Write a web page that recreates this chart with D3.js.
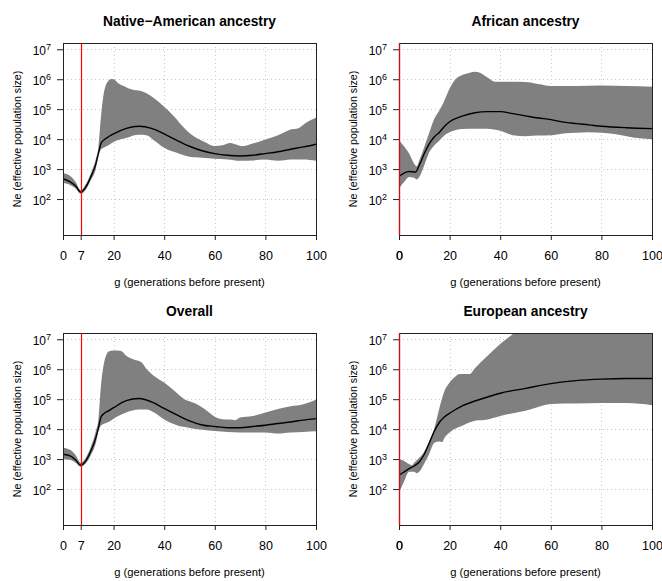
<!DOCTYPE html>
<html lang="en">
<head>
<meta charset="utf-8">
<script src="https://d3js.org/d3.v7.min.js"></script>
<style>
  body { margin: 0; background: #fff; }
  text { font-family: "Liberation Sans", Arial, sans-serif; fill: #000; }
</style>
</head>
<body>
<svg width="662" height="581"></svg>
<script>
// ticks
var xTicks = [0, 20, 40, 60, 80, 100];
var yExponents = [2, 3, 4, 5, 6, 7];

// [generation, Ne]
var naMid = [[0,480],[3,370],[5,275],[7,170],[9,250],[11,550],[13,1500],[14,3300],[15,7100],[16,9100],[18,12000],[20,15000],[25,23000],[30,27000],[35,23000],[40,15000],[45,9100],[50,5800],[55,4100],[60,3300],[65,2900],[70,2750],[75,2900],[80,3300],[85,3800],[90,4600],[95,5500],[100,6800]];
var naHi = [[0,740],[3,575],[5,370],[7,195],[9,310],[11,710],[13,2200],[14,5500],[15,56000],[16,295000],[17,650000],[18,890000],[19,1020000],[20,1000000],[22,720000],[24,590000],[26,490000],[28,440000],[30,420000],[33,340000],[36,230000],[40,120000],[44,56000],[48,23000],[52,12000],[56,8100],[60,5900],[63,6200],[66,7400],[68,6800],[71,5800],[75,7100],[80,9800],[85,13500],[90,21000],[93,23000],[96,35000],[100,52000]];
var naLo = [[0,350],[3,290],[5,225],[7,150],[9,205],[11,430],[13,1050],[14,2900],[15,4500],[16,5200],[18,6300],[20,8100],[25,11000],[30,14000],[33,13500],[36,9100],[40,5200],[45,3500],[50,2600],[55,2400],[60,2200],[65,2100],[70,1900],[75,1950],[80,2100],[85,1900],[90,2100],[95,2100],[100,1900]];

var afMid = [[0,575],[2,740],[4,830],[6.5,800],[8,1350],[10,3300],[12,7100],[14,12000],[16,17000],[18,27000],[20,38000],[25,59000],[30,76000],[35,83000],[40,83000],[45,71000],[50,60000],[55,51000],[60,45000],[65,37000],[70,33000],[75,30000],[80,27000],[90,24000],[100,22500]];
var afHi = [[0,9100],[2,5800],[4,3300],[6,1500],[7,1230],[8,1950],[10,5500],[12,17000],[14,49000],[16,93000],[18,200000],[20,490000],[22,930000],[25,1380000],[28,1660000],[30,1780000],[32,1660000],[35,1150000],[38,830000],[40,830000],[45,830000],[50,810000],[55,690000],[60,590000],[70,600000],[80,620000],[90,590000],[100,560000]];
var afLo = [[0,225],[2,370],[4,550],[6,510],[7,450],[8,550],[10,1350],[12,3700],[14,6300],[16,9100],[18,13500],[20,17000],[25,22000],[30,22400],[35,22400],[40,19000],[45,13500],[50,12600],[55,13200],[60,13500],[65,15500],[70,16200],[75,17000],[80,16200],[85,14800],[90,12600],[95,10700],[100,10000]];

var ovMid = [[0,1450],[3,1260],[5,930],[7,620],[9,870],[11,1860],[13,5200],[14,11000],[15,25000],[16,32000],[18,41000],[20,52000],[25,89000],[30,105000],[35,81000],[40,49000],[45,30000],[50,19000],[55,13800],[60,12300],[65,11200],[70,11200],[75,12300],[80,13500],[85,15500],[90,17400],[95,20000],[100,22400]];
var ovHi = [[0,2400],[3,2000],[5,1350],[7,760],[9,1120],[11,2600],[13,8700],[14,21000],[15,280000],[16,1300000],[17,2800000],[18,3900000],[20,4200000],[23,4100000],[25,2800000],[28,2100000],[31,1700000],[33,1020000],[36,600000],[40,360000],[44,190000],[48,100000],[52,74000],[56,47000],[60,26000],[64,21000],[66,21000],[68,20000],[70,24500],[75,27500],[80,36000],[85,47000],[90,58000],[95,68000],[100,95000]];
var ovLo = [[0,980],[3,930],[5,760],[7,560],[9,720],[11,1350],[13,3500],[14,8700],[15,12900],[16,14800],[18,17400],[20,22400],[25,36000],[30,45000],[33,45000],[36,36000],[40,21000],[45,13500],[50,11000],[55,9500],[60,8700],[65,8100],[70,7800],[80,7800],[85,7200],[90,7800],[95,8100],[100,8500]];

var euMid = [[0,290],[2,370],[4,480],[6,590],[8,800],[10,1450],[12,3500],[14,8700],[16,17000],[18,26000],[20,34000],[25,60000],[30,87000],[35,118000],[40,158000],[50,229000],[60,331000],[70,417000],[80,468000],[90,490000],[100,490000]];
var euHi = [[0,980],[2,870],[4,680],[5,620],[6,760],[8,1100],[10,1800],[12,4100],[14,11000],[16,52000],[18,190000],[20,360000],[22,540000],[24,690000],[26,690000],[28,690000],[30,1070000],[35,2800000],[40,6900000],[45,15000000],[50,32000000],[60,100000000],[100,100000000]];
var euLo = [[0,76],[2,180],[4,380],[6,380],[7,340],[8,380],[10,720],[12,1550],[14,3500],[16,3900],[17,3700],[18,5200],[20,7800],[25,12900],[30,19000],[35,21000],[40,27500],[50,41000],[60,69000],[65,72000],[70,72000],[80,74000],[90,74000],[100,63000]];

var panels = [
  { title: "Native\u2212American ancestry", gen: 7, mid: naMid, hi: naHi, lo: naLo, left: 63, top: 43 },
  { title: "African ancestry", gen: 0, mid: afMid, hi: afHi, lo: afLo, left: 399, top: 43 },
  { title: "Overall", gen: 7, mid: ovMid, hi: ovHi, lo: ovLo, left: 63, top: 333 },
  { title: "European ancestry", gen: 0, mid: euMid, hi: euHi, lo: euLo, left: 399, top: 333 }
];

var W = 253, H = 192;
var svg = d3.select("svg");

var x = d3.scaleLinear().domain([0, 100]).range([0, W]);
var y = d3.scaleLog().domain([Math.pow(10, 0.8), Math.pow(10, 7.21)]).range([H, 0]);

var line = d3.line()
  .x(function (d) { return x(d[0]); })
  .y(function (d) { return y(d[1]); })
  .curve(d3.curveMonotoneX);

panels.forEach(function (p, i) {
  var g = svg.append("g").attr("transform", "translate(" + p.left + "," + p.top + ")");

  g.append("clipPath").attr("id", "clip" + i)
    .append("rect").attr("width", W).attr("height", H);

  // dotted grid
  g.selectAll(".vgrid").data([20, 40, 60, 80]).enter().append("line")
    .attr("x1", function (d) { return Math.round(x(d)) + 0.5; })
    .attr("x2", function (d) { return Math.round(x(d)) + 0.5; })
    .attr("y1", 0).attr("y2", H)
    .attr("stroke", "#c8c8c8").attr("stroke-dasharray", "1,3");
  g.selectAll(".hgrid").data(yExponents).enter().append("line")
    .attr("x1", 0).attr("x2", W)
    .attr("y1", function (d) { return Math.round(y(Math.pow(10, d))) + 0.5; })
    .attr("y2", function (d) { return Math.round(y(Math.pow(10, d))) + 0.5; })
    .attr("stroke", "#c8c8c8").attr("stroke-dasharray", "1,3");

  var plot = g.append("g").attr("clip-path", "url(#clip" + i + ")");

  // confidence band
  var upper = line(p.hi);
  var lower = line(p.lo.slice().reverse()).replace(/^M/, "L");
  plot.append("path")
    .attr("d", upper + lower + "Z")
    .attr("fill", "#808080")
    .attr("stroke", "none");

  // median
  plot.append("path")
    .attr("d", line(p.mid))
    .attr("fill", "none")
    .attr("stroke", "#000")
    .attr("stroke-width", 1.4);

  // box
  g.append("rect")
    .attr("x", 0.5).attr("y", 0.5).attr("width", W).attr("height", H)
    .attr("fill", "none").attr("stroke", "#222");

  // red generation line
  g.append("line")
    .attr("x1", Math.round(x(p.gen)) + 0.5).attr("x2", Math.round(x(p.gen)) + 0.5)
    .attr("y1", 0).attr("y2", H)
    .attr("stroke", p.gen === 0 ? "#c41414" : "#ff0000")
    .attr("stroke-width", p.gen === 0 ? 1.4 : 1.2);

  // x axis
  g.append("g").attr("transform", "translate(0," + H + ")")
    .call(d3.axisBottom(x).tickValues(xTicks).tickSize(5).tickPadding(11).tickSizeOuter(0));
  g.append("g").attr("transform", "translate(0," + H + ")")
    .call(d3.axisBottom(x).tickValues([p.gen]).tickSize(5).tickPadding(11).tickSizeOuter(0));
  g.selectAll(".domain").remove();
  g.selectAll(".tick line").attr("stroke", "#222");
  g.selectAll(".tick text").attr("font-size", "12.5px").attr("font-family", null);

  // y axis with 10^n labels
  var ya = g.append("g")
    .call(d3.axisLeft(y).tickValues(yExponents.map(function (e) { return Math.pow(10, e); }))
      .tickSize(6).tickPadding(6).tickFormat(""));
  ya.select(".domain").remove();
  ya.selectAll(".tick line").attr("stroke", "#222");
  ya.selectAll(".tick text")
    .attr("dy", "0.47em").attr("font-size", "12px").attr("font-family", null)
    .each(function (d, k) {
      var t = d3.select(this);
      t.append("tspan").text("10");
      t.append("tspan").attr("dy", "-5").attr("font-size", "9px").text(yExponents[k]);
    });

  // titles and labels
  g.append("text")
    .attr("x", W / 2).attr("y", -17.5)
    .attr("text-anchor", "middle")
    .attr("font-weight", "bold")
    .attr("font-size", "13.8px")
    .text(p.title);

  g.append("text")
    .attr("x", W / 2).attr("y", H + 51)
    .attr("text-anchor", "middle")
    .attr("font-size", "11.2px")
    .text("g (generations before present)");

  g.append("text")
    .attr("transform", "rotate(-90)")
    .attr("x", -H / 2).attr("y", -42.5)
    .attr("text-anchor", "middle")
    .attr("font-size", "10.6px")
    .text("Ne (effective population size)");
});
</script>
</body>
</html>
